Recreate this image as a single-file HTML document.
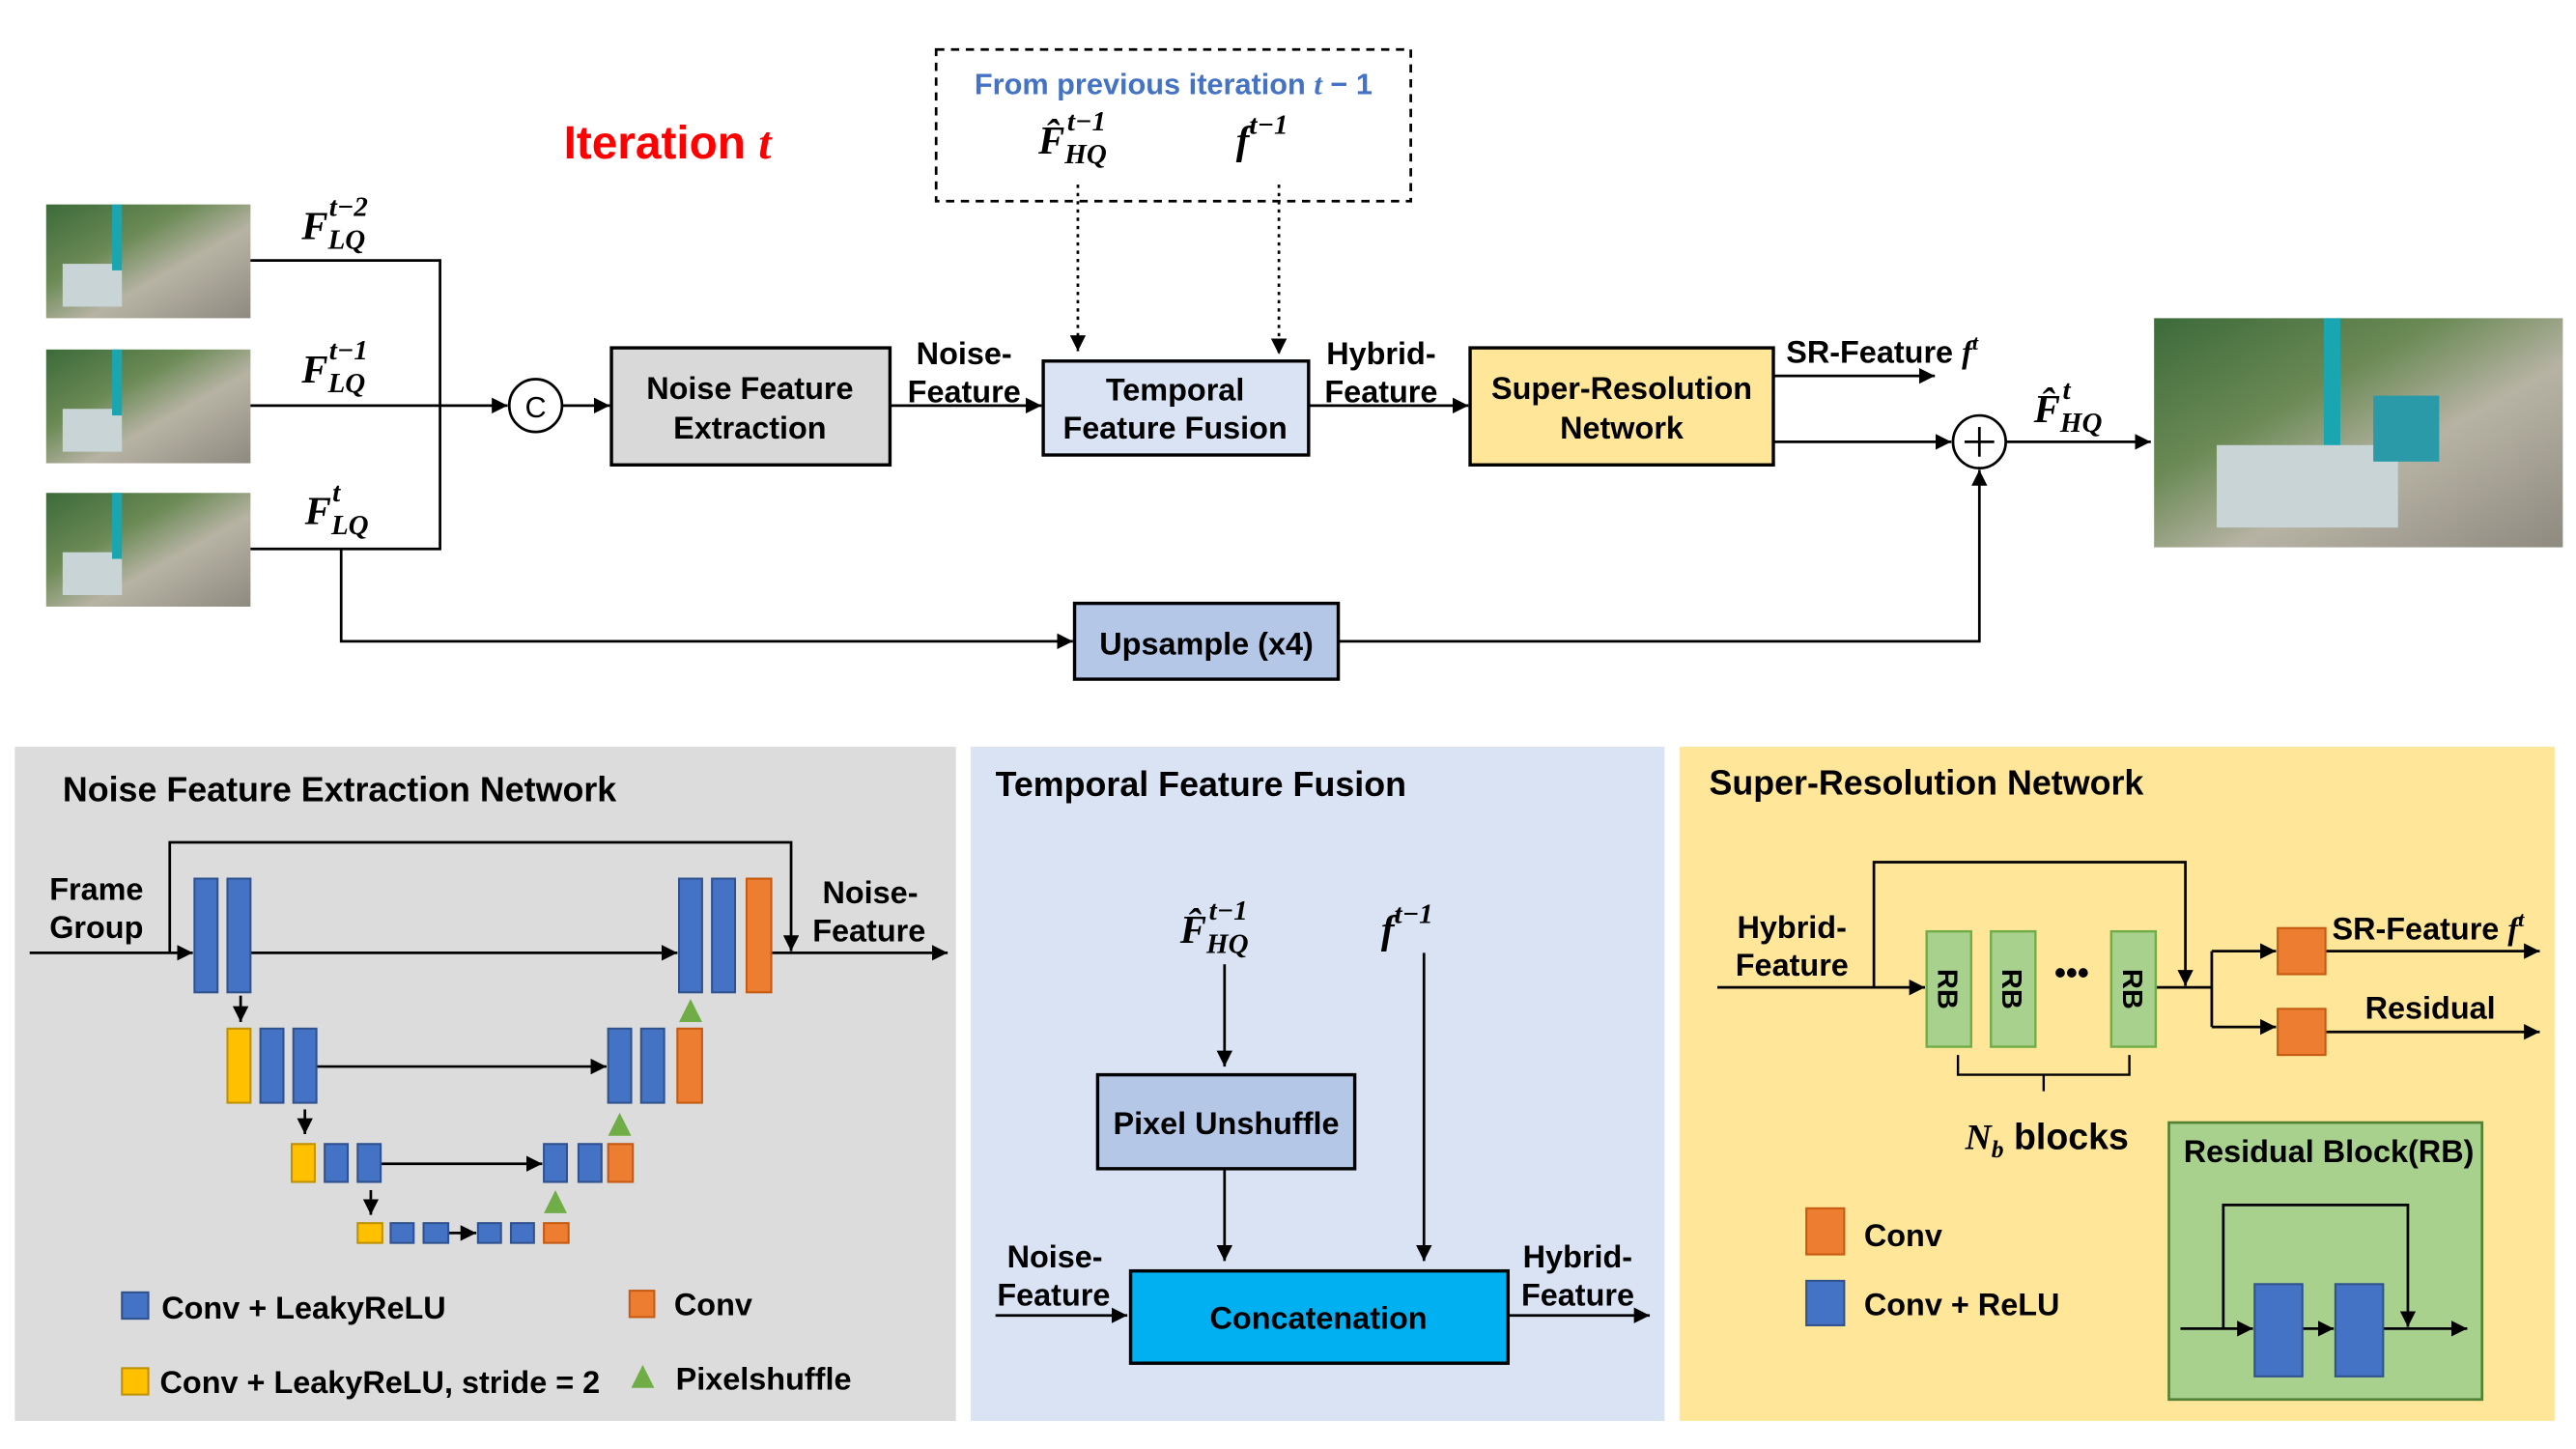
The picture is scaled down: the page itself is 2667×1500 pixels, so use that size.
<!DOCTYPE html>
<html><head><meta charset="utf-8"><style>
html,body{margin:0;padding:0;background:#fff}
svg{display:block}
text{font-family:"Liberation Sans",Arial,sans-serif;font-weight:bold;fill:#000}
.m{font-family:"Liberation Serif","DejaVu Serif",serif;font-style:italic;font-weight:bold}
</style></head><body>
<svg width="2667" height="1500" viewBox="0 0 1563 879" xmlns="http://www.w3.org/2000/svg">
<defs>
<marker id="a" viewBox="0 0 10 10" refX="10" refY="5" markerWidth="6" markerHeight="6" orient="auto-start-reverse"><path d="M0,0L10,5L0,10z" fill="#000"/></marker>
<linearGradient id="ph" x1="0" y1="0" x2="1" y2="1">
<stop offset="0" stop-color="#3d6a3a"/><stop offset="0.35" stop-color="#6b8a55"/><stop offset="0.6" stop-color="#b7b3a4"/><stop offset="1" stop-color="#8f8a80"/></linearGradient>
</defs>
<rect width="1563" height="879" fill="#fff"/>
<g stroke="#000" stroke-width="1.6" fill="none">
<!-- photos -->
<rect x="28" y="124" width="124" height="69" fill="url(#ph)" stroke="none"/>
<rect x="28" y="212" width="124" height="69" fill="url(#ph)" stroke="none"/>
<rect x="28" y="299" width="124" height="69" fill="url(#ph)" stroke="none"/>
<rect x="1307" y="193" width="248" height="139" fill="url(#ph)" stroke="none"/>
<rect x="38" y="160" width="36" height="26" fill="#c8d4d6" stroke="none"/>
<rect x="38" y="248" width="36" height="26" fill="#c8d4d6" stroke="none"/>
<rect x="38" y="335" width="36" height="26" fill="#c8d4d6" stroke="none"/>
<rect x="68" y="124" width="6" height="40" fill="#1aa6b0" stroke="none"/>
<rect x="68" y="212" width="6" height="40" fill="#1aa6b0" stroke="none"/>
<rect x="68" y="299" width="6" height="40" fill="#1aa6b0" stroke="none"/>
<rect x="1410" y="193" width="10" height="110" fill="#1aa6b0" stroke="none"/>
<rect x="1345" y="270" width="110" height="50" fill="#c8d4d6" stroke="none"/>
<rect x="1440" y="240" width="40" height="40" fill="#2a9aa8" stroke="none"/>
<!-- top connectors -->
<path d="M152,158H267V333H152"/>
<path d="M152,246H308" marker-end="url(#a)"/>
<circle cx="325" cy="246" r="16" fill="#fff"/>
<path d="M341,246H370" marker-end="url(#a)"/>
<rect x="371" y="211" width="169" height="71" fill="#d9d9d9" stroke-width="2"/>
<path d="M540,246H632" marker-end="url(#a)"/>
<rect x="633" y="219" width="161" height="57" fill="#dae3f3" stroke-width="2"/>
<path d="M794,246H891" marker-end="url(#a)"/>
<rect x="892" y="211" width="184" height="71" fill="#ffe699" stroke-width="2"/>
<path d="M1076,228H1174" marker-end="url(#a)"/>
<path d="M1076,268H1184" marker-end="url(#a)"/>
<circle cx="1201" cy="268" r="16" fill="#fff"/>
<path d="M1192,268H1210M1201,259V277"/>
<path d="M1217,268H1305" marker-end="url(#a)"/>
<path d="M207,333V389H651" marker-end="url(#a)"/>
<rect x="652" y="366" width="160" height="46" fill="#b4c7e7" stroke-width="2"/>
<path d="M812,389H1201V285" marker-end="url(#a)"/>
<rect x="568" y="30" width="288" height="92" stroke-dasharray="5,4"/>
<path d="M654,112V213" stroke-dasharray="2,3" marker-end="url(#a)"/>
<path d="M776,112V215" stroke-dasharray="2,3" marker-end="url(#a)"/>
<!-- panels -->
<rect x="9" y="453" width="571" height="409" fill="#dcdcdc" stroke="none"/>
<rect x="589" y="453" width="421" height="409" fill="#dae3f3" stroke="none"/>
<rect x="1019" y="453" width="531" height="409" fill="#ffe699" stroke="none"/>
<!-- NFE -->
<path d="M18,578H117" marker-end="url(#a)"/>
<path d="M103,578V511H480V577" marker-end="url(#a)"/>
<path d="M152,578H411" marker-end="url(#a)"/>
<path d="M468,578H575" marker-end="url(#a)"/>
<path d="M146,604V620" marker-end="url(#a)"/>
<path d="M185,673V688" marker-end="url(#a)"/>
<path d="M225,722V737" marker-end="url(#a)"/>
<path d="M192,647H368" marker-end="url(#a)"/>
<path d="M231,706H329" marker-end="url(#a)"/>
<path d="M272,748H289" marker-end="url(#a)"/>
<g stroke="#2f528f" stroke-width="1.2" fill="#4472c4">
<rect x="118" y="533" width="14" height="69"/><rect x="138" y="533" width="14" height="69"/>
<rect x="412" y="533" width="14" height="69"/><rect x="432" y="533" width="14" height="69"/>
<rect x="158" y="624" width="14" height="45"/><rect x="178" y="624" width="14" height="45"/>
<rect x="369" y="624" width="14" height="45"/><rect x="389" y="624" width="14" height="45"/>
<rect x="197" y="694" width="14" height="23"/><rect x="217" y="694" width="14" height="23"/>
<rect x="330" y="694" width="14" height="23"/><rect x="351" y="694" width="14" height="23"/>
<rect x="237" y="742" width="14" height="12"/><rect x="257" y="742" width="15" height="12"/>
<rect x="290" y="742" width="14" height="12"/><rect x="310" y="742" width="14" height="12"/>
<rect x="74" y="784" width="16" height="16"/>
</g>
<g stroke="#c55a11" stroke-width="1.2" fill="#ed7d31">
<rect x="453" y="533" width="15" height="69"/><rect x="411" y="624" width="15" height="45"/>
<rect x="369" y="694" width="15" height="23"/><rect x="330" y="742" width="15" height="12"/>
<rect x="382" y="783" width="15" height="16"/>
</g>
<g stroke="#bf9000" stroke-width="1.2" fill="#ffc000">
<rect x="138" y="624" width="14" height="45"/><rect x="177" y="694" width="14" height="23"/>
<rect x="217" y="742" width="15" height="12"/><rect x="74" y="830" width="16" height="16"/>
</g>
<g fill="#70ad47" stroke="none">
<path d="M419,606L426,620H412z"/><path d="M376,675L383,689H369z"/><path d="M337,722L344,736H330z"/><path d="M390,828L397,842H383z"/>
</g>
<!-- TFF -->
<path d="M743,585V647" marker-end="url(#a)"/>
<path d="M743,709V765" marker-end="url(#a)"/>
<path d="M864,578V765" marker-end="url(#a)"/>
<rect x="666" y="652" width="156" height="57" fill="#b4c7e7" stroke-width="2"/>
<rect x="686" y="771" width="229" height="56" fill="#00b0f0" stroke-width="2"/>
<path d="M604,798H684" marker-end="url(#a)"/>
<path d="M915,798H1001" marker-end="url(#a)"/>
<!-- SR -->
<path d="M1042,599H1168" marker-end="url(#a)"/>
<path d="M1137,599V523H1326V598" marker-end="url(#a)"/>
<path d="M1308,599H1342M1342,577V623"/>
<path d="M1342,577H1381" marker-end="url(#a)"/>
<path d="M1342,623H1381" marker-end="url(#a)"/>
<path d="M1411,577H1541" marker-end="url(#a)"/>
<path d="M1411,626H1541" marker-end="url(#a)"/>
<g fill="#a9d18e" stroke="#70ad47" stroke-width="1.4">
<rect x="1169" y="565" width="27" height="70"/><rect x="1208" y="565" width="27" height="70"/><rect x="1281" y="565" width="27" height="70"/>
</g>
<g fill="#ed7d31" stroke="#c55a11" stroke-width="1.2">
<rect x="1382" y="563" width="29" height="28"/><rect x="1382" y="612" width="29" height="28"/>
<rect x="1096" y="733" width="23" height="28"/>
</g>
<rect x="1096" y="777" width="23" height="27" fill="#4472c4" stroke="#2f528f" stroke-width="1.2"/>
<path d="M1188,640V652H1240V662M1240,652H1292V640" stroke-width="1.4"/>
<rect x="1316" y="681" width="190" height="168" fill="#a9d18e" stroke="#548235" stroke-width="1.6"/>
<path d="M1323,806H1367" marker-end="url(#a)"/>
<path d="M1397,806H1416" marker-end="url(#a)"/>
<path d="M1446,806H1497" marker-end="url(#a)"/>
<path d="M1349,806V731H1461V805" marker-end="url(#a)"/>
<rect x="1368" y="779" width="29" height="56" fill="#4472c4" stroke="#2f528f" stroke-width="1.2"/>
<rect x="1417" y="779" width="29" height="56" fill="#4472c4" stroke="#2f528f" stroke-width="1.2"/>
</g>
<!-- text -->
<text x="325" y="253" font-size="18" font-weight="normal" style="font-weight:normal" text-anchor="middle">C</text>
<text x="405" y="96" font-size="28" style="fill:#ff0000" text-anchor="middle">Iteration <tspan class="m" style="fill:#ff0000">t</tspan></text>
<text x="712" y="57" font-size="18" text-anchor="middle" style="fill:#4472c4">From previous iteration <tspan class="m" style="fill:#4472c4">t</tspan> − 1</text>
<text class="m" x="630" y="93" font-size="24">F̂<tspan dy="6" font-size="17">HQ</tspan><tspan dx="-24" dy="-20" font-size="17">t−1</tspan></text>
<text class="m" x="750" y="93" font-size="24">f<tspan dy="-12" font-size="17">t−1</tspan></text>
<text class="m" x="183" y="145" font-size="24">F<tspan dy="6" font-size="17">LQ</tspan><tspan dx="-22" dy="-20" font-size="17">t−2</tspan></text>
<text class="m" x="183" y="232" font-size="24">F<tspan dy="6" font-size="17">LQ</tspan><tspan dx="-22" dy="-20" font-size="17">t−1</tspan></text>
<text class="m" x="185" y="318" font-size="24">F<tspan dy="6" font-size="17">LQ</tspan><tspan dx="-22" dy="-20" font-size="17">t</tspan></text>
<text class="m" x="1234" y="256" font-size="24">F̂<tspan dy="6" font-size="17">HQ</tspan><tspan dx="-24" dy="-20" font-size="17">t</tspan></text>
<g font-size="19" text-anchor="middle">
<text x="455" y="242">Noise Feature</text><text x="455" y="266">Extraction</text>
<text x="713" y="243">Temporal</text><text x="713" y="266">Feature Fusion</text>
<text x="984" y="242">Super-Resolution</text><text x="984" y="266">Network</text>
<text x="732" y="397">Upsample (x4)</text>
<text x="585" y="221">Noise-</text><text x="585" y="244">Feature</text>
<text x="838" y="221">Hybrid-</text><text x="838" y="244">Feature</text>
<text x="1142" y="220">SR-Feature <tspan class="m">f<tspan dy="-8" font-size="13">t</tspan></tspan></text>
</g>
<g font-size="21">
<text x="38" y="486">Noise Feature Extraction Network</text>
<text x="604" y="483">Temporal Feature Fusion</text>
<text x="1037" y="482">Super-Resolution Network</text>
</g>
<g font-size="19">
<text x="30" y="546">Frame</text><text x="30" y="569">Group</text>
<text x="499" y="548">Noise-</text><text x="493" y="571">Feature</text>
<text x="98" y="800">Conv + LeakyReLU</text>
<text x="409" y="798">Conv</text>
<text x="97" y="845">Conv + LeakyReLU, stride = 2</text>
<text x="410" y="843">Pixelshuffle</text>
<text x="744" y="688" text-anchor="middle">Pixel Unshuffle</text>
<text x="800" y="806" text-anchor="middle">Concatenation</text>
<text x="611" y="769">Noise-</text><text x="605" y="792">Feature</text>
<text x="924" y="769">Hybrid-</text><text x="923" y="792">Feature</text>
<text x="1054" y="569">Hybrid-</text><text x="1053" y="592">Feature</text>
<text x="1415" y="570">SR-Feature <tspan class="m">f<tspan dy="-8" font-size="13">t</tspan></tspan></text>
<text x="1435" y="618">Residual</text>
<text x="1131" y="756">Conv</text>
<text x="1131" y="798">Conv + ReLU</text>
<text x="1413" y="705" text-anchor="middle">Residual Block(RB)</text>
</g>
<g font-size="17">
<text transform="translate(1176,600) rotate(90)" text-anchor="middle">RB</text>
<text transform="translate(1215,600) rotate(90)" text-anchor="middle">RB</text>
<text transform="translate(1288,600) rotate(90)" text-anchor="middle">RB</text>
</g>
<text x="1257" y="597" font-size="20" text-anchor="middle">•••</text>
<text x="1242" y="697" font-size="22" text-anchor="middle"><tspan class="m">N<tspan dy="5" font-size="15">b</tspan></tspan><tspan dy="-5"> blocks</tspan></text>
<text class="m" x="716" y="572" font-size="24">F̂<tspan dy="6" font-size="17">HQ</tspan><tspan dx="-24" dy="-20" font-size="17">t−1</tspan></text>
<text class="m" x="838" y="572" font-size="24">f<tspan dy="-12" font-size="17">t−1</tspan></text>
</svg>
</body></html>
